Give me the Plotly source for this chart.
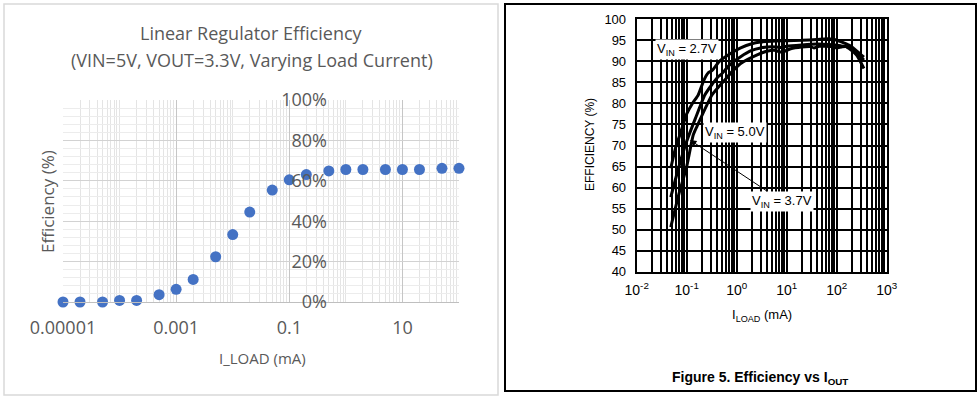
import plotly.graph_objects as go

# ---------------- data ----------------
# Left chart: linear regulator efficiency (Excel-style scatter)
lin_iload_ma = [1e-5, 2e-5, 5e-5, 1e-4, 2e-4, 5e-4, 1e-3, 2e-3, 5e-3, 1e-2, 2e-2,
                5e-2, 0.1, 0.2, 0.5, 1, 2, 5, 10, 20, 50, 100]
lin_eff_pct = [0.0, 0.0, 0.0, 0.8, 0.8, 3.6, 6.3, 11.2, 22.4, 33.4, 44.5,
               55.4, 60.5, 63.1, 64.9, 65.6, 65.6, 65.6, 65.6, 65.6, 66.2, 66.2]
lin_x_tickvals = [1e-5, 1e-3, 1e-1, 1e1]
lin_x_ticktext = ["0.00001", "0.001", "0.1", "10"]
lin_y_tickvals = [0, 20, 40, 60, 80, 100]
lin_y_ticktext = ["0%", "20%", "40%", "60%", "80%", "100%"]

# Right chart: switching regulator efficiency curves (datasheet figure)
vin27_iload = [0.048, 0.06, 0.073, 0.1, 0.13, 0.17, 0.22, 0.27, 0.32, 0.45, 0.74,
               1.2, 2.0, 3.0, 5.0, 10, 20, 40, 63, 90, 120, 180, 250, 350]
vin27_eff = [64.6, 69.5, 72.5, 77.5, 80.0, 82.0, 85.5, 87.3, 87.8, 90.0, 91.8,
             93.2, 94.2, 94.6, 94.8, 94.9, 95.0, 95.2, 95.4, 95.2, 94.7, 93.8, 92.5, 91.0]

vin37_iload = [0.048, 0.07, 0.1, 0.15, 0.23, 0.32, 0.43, 0.5, 0.7, 1.2, 2.0, 3.0,
               5.0, 7.5, 10, 20, 40, 70, 120, 160, 250, 350]
vin37_eff = [57.7, 65.0, 71.0, 76.5, 82.0, 84.5, 86.4, 87.0, 89.0, 91.1, 92.6, 93.2,
             93.5, 93.3, 93.6, 93.9, 94.1, 94.0, 93.7, 93.4, 91.5, 88.3]

vin50_iload = [0.048, 0.07, 0.1, 0.135, 0.16, 0.32, 0.58, 0.8, 1.2, 2.5, 4.0, 6.0,
               7.5, 9.0, 12, 20, 30, 35, 45, 80, 100, 130, 180, 250, 350]
vin50_eff = [50.6, 58.5, 65.0, 72.5, 74.5, 82.0, 85.6, 87.5, 89.5, 91.5, 92.4, 92.6,
             92.2, 92.4, 93.0, 93.4, 93.5, 93.2, 93.6, 93.5, 93.2, 93.5, 93.4, 92.0, 90.3]

sw_x_tickvals = [1e-2, 1e-1, 1e0, 1e1, 1e2, 1e3]
sw_x_ticktext = ["10<sup>-2</sup>", "10<sup>-1</sup>", "10<sup>0</sup>",
                 "10<sup>1</sup>", "10<sup>2</sup>", "10<sup>3</sup>"]

# ---------------- helpers ----------------
W, H = 980, 399


def fx(p):
    return p / W


def fy(p):
    return 1 - p / H


def minor_log_vals(d0, d1, skip_decades=()):
    vals = []
    for e in range(d0, d1 + 1):
        for m in range(1, 10):
            if m == 1 and (10.0 ** e) not in skip_decades:
                vals.append(10.0 ** e)
            elif m > 1 and e < d1:
                vals.append(m * 10.0 ** e)
    return vals


lin_minor = [v for v in minor_log_vals(-5, 2) if v not in lin_x_tickvals[1:]]
sw_minor = minor_log_vals(-2, 3, skip_decades=tuple(sw_x_tickvals))

GRAY = "#595959"
EXCEL_FONT = "Open Sans"
DS_FONT = "Liberation Sans"

fig = go.Figure()

fig.add_trace(go.Scatter(
    x=lin_iload_ma, y=lin_eff_pct, mode="markers",
    marker=dict(size=11, color="#4472C4"),
    xaxis="x", yaxis="y", cliponaxis=False, showlegend=False))

for xs, ys in [(vin27_iload, vin27_eff), (vin37_iload, vin37_eff), (vin50_iload, vin50_eff)]:
    fig.add_trace(go.Scatter(
        x=xs, y=ys, mode="lines",
        line=dict(color="black", width=3, shape="spline", smoothing=0.5),
        xaxis="x2", yaxis="y2", showlegend=False))

fig.update_layout(
    width=W, height=H,
    margin=dict(l=0, r=0, t=0, b=0, autoexpand=False),
    paper_bgcolor="white", plot_bgcolor="white",
    showlegend=False,
    xaxis=dict(
        type="log", domain=[fx(63), fx(459)], range=[-5, 2], anchor="y",
        tickmode="array", tickvals=lin_x_tickvals, ticktext=lin_x_ticktext,
        showgrid=True, gridcolor="#c6c6c6", gridwidth=1,
        minor=dict(tickmode="array", tickvals=lin_minor, showgrid=True,
                   gridcolor="#e4e4e4", gridwidth=1),
        showline=True, linecolor="#bfbfbf", linewidth=1, zeroline=False, ticks="",
        tickfont=dict(family=EXCEL_FONT, size=18, color=GRAY),
        ticklabelstandoff=9, fixedrange=True),
    yaxis=dict(
        domain=[fy(302), fy(100)], range=[0, 100], anchor="free", position=fx(327),
        tickmode="array", tickvals=lin_y_tickvals, ticktext=lin_y_ticktext,
        showgrid=True, gridcolor="#d2d2d2", gridwidth=1,
        minor=dict(dtick=4, showgrid=True, gridcolor="#ececec", gridwidth=1),
        zeroline=False, showline=False, ticks="",
        tickfont=dict(family=EXCEL_FONT, size=18, color=GRAY), fixedrange=True),
    xaxis2=dict(
        type="log", domain=[fx(636.7), fx(886.7)], range=[-2, 3], anchor="y2",
        tickmode="array", tickvals=sw_x_tickvals, ticktext=sw_x_ticktext,
        showgrid=True, gridcolor="black", gridwidth=1.5,
        minor=dict(tickmode="array", tickvals=sw_minor, showgrid=True,
                   gridcolor="black", gridwidth=1.5),
        showline=True, mirror=True, linecolor="black", linewidth=2, zeroline=False,
        ticks="", tickfont=dict(family=DS_FONT, size=14, color="black"),
        ticklabelstandoff=4, fixedrange=True),
    yaxis2=dict(
        domain=[fy(271.7), fy(19.3)], range=[40, 100], anchor="x2",
        tickmode="linear", tick0=40, dtick=5,
        showgrid=True, gridcolor="black", gridwidth=1.5,
        showline=True, mirror=True, linecolor="black", linewidth=2, zeroline=False,
        ticks="", tickfont=dict(family=DS_FONT, size=13, color="black"),
        ticklabelstandoff=6, fixedrange=True),
)

ann = []
# left chart texts
ann.append(dict(text="Linear Regulator Efficiency", x=fx(252), y=fy(33),
                font=dict(family=EXCEL_FONT, size=18, color=GRAY)))
ann.append(dict(text="(VIN=5V, VOUT=3.3V, Varying Load Current)", x=fx(252), y=fy(60),
                font=dict(family=EXCEL_FONT, size=18, color=GRAY)))
ann.append(dict(text="Efficiency (%)", x=fx(47), y=fy(202), textangle=-90,
                font=dict(family=EXCEL_FONT, size=17, color=GRAY)))
ann.append(dict(text="I_LOAD (mA)", x=fx(262), y=fy(358),
                font=dict(family=EXCEL_FONT, size=15, color=GRAY)))
# right chart texts
ann.append(dict(text="I<sub>LOAD</sub> (mA)", x=fx(762), y=fy(315),
                font=dict(family=DS_FONT, size=13, color="black")))
ann.append(dict(text="EFFICIENCY (%)", x=fx(590), y=fy(145), textangle=-90,
                font=dict(family=DS_FONT, size=12, color="black")))
ann.append(dict(text="<b>Figure 5. Efficiency vs I<sub>OUT</sub></b>", x=fx(760), y=fy(378),
                font=dict(family=DS_FONT, size=14, color="black")))
for a in ann:
    a.update(xref="paper", yref="paper", showarrow=False, xanchor="center", yanchor="middle")

# curve labels (in data coordinates of the right chart)
ann.append(dict(text="V<sub>IN</sub> = 2.7V", x=-0.994, y=92.9, xref="x2", yref="y2",
                showarrow=False, bgcolor="white",
                font=dict(family=DS_FONT, size=13, color="black")))
ann.append(dict(text="V<sub>IN</sub> = 5.0V", x=-0.034, y=73.0, xref="x2", yref="y2",
                showarrow=False, bgcolor="white",
                font=dict(family=DS_FONT, size=13, color="black")))
ann.append(dict(text="V<sub>IN</sub> = 3.7V", x=-0.934, y=71.3, xref="x2", yref="y2",
                showarrow=True, ax=92, ay=61, arrowhead=2, arrowsize=1.3,
                arrowwidth=1, arrowcolor="black", bgcolor="white",
                font=dict(family=DS_FONT, size=13, color="black")))

fig.update_layout(annotations=ann)

# panel frames
fig.update_layout(shapes=[
    dict(type="rect", xref="paper", yref="paper", x0=fx(4), x1=fx(498), y0=fy(395), y1=fy(4),
         line=dict(color="#d9d9d9", width=1.5), layer="below"),
    dict(type="rect", xref="paper", yref="paper", x0=fx(505), x1=fx(976), y0=fy(391), y1=fy(4),
         line=dict(color="black", width=2), layer="above"),
])

fig.write_html("out.html", config={"displayModeBar": False},
               post_script="document.body.style.margin='0';")
